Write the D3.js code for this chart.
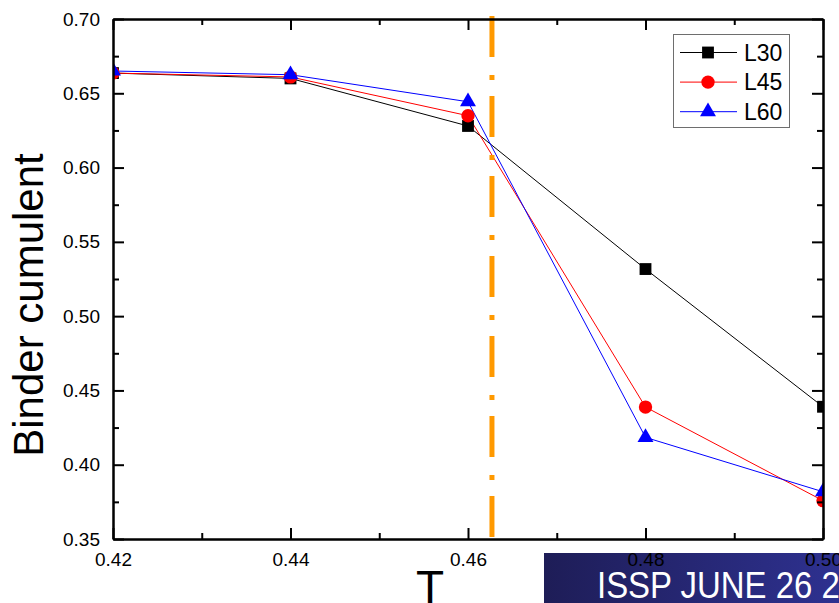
<!DOCTYPE html>
<html><head><meta charset="utf-8">
<script src="https://cdn.jsdelivr.net/npm/d3@7"></script>
<style>
html,body{margin:0;padding:0;background:#fff;}
svg{display:block;font-family:Arial,"Liberation Sans",sans-serif;}
</style></head>
<body>
<svg id="c" width="839" height="603"></svg>
<script>
const temps = [0.42, 0.44, 0.46, 0.48, 0.50];
const L30 = [0.6636, 0.6600, 0.6280, 0.5317, 0.4390];
const L45 = [0.6636, 0.6610, 0.6349, 0.4388, 0.3758];
const L60 = [0.6650, 0.6625, 0.6443, 0.4184, 0.3818];
const seriesNames = ["L30", "L45", "L60"];
const seriesColors = ["#000000", "#ff0000", "#0000ff"];
const seriesSymbols = ["square", "circle", "triangle"];
const criticalT = 0.4627;
const xTicks = [0.42, 0.44, 0.46, 0.48, 0.50];
const yTicks = [0.35, 0.40, 0.45, 0.50, 0.55, 0.60, 0.65, 0.70];
const yLabel = "Binder cumulent";
const xLabel = "T";
const bannerText = "ISSP JUNE 26 2008";

const svg = d3.select("#c");
const L = 113, R = 823, T = 19, B = 539;
const x = d3.scaleLinear().domain([0.42, 0.50]).range([L, R]);
const y = d3.scaleLinear().domain([0.35, 0.70]).range([B, T]);

const series = [L30, L45, L60].map((v, i) => ({name: seriesNames[i], color: seriesColors[i], sym: seriesSymbols[i], values: v}));

svg.append("defs").append("clipPath").attr("id", "pc")
  .append("rect").attr("x", L).attr("y", T).attr("width", R - L).attr("height", B - T);

const symType = {square: d3.symbolSquare, circle: d3.symbolCircle, triangle: d3.symbolTriangle};
const symSize = {square: 140, circle: 140, triangle: 110};

// data
const gData = svg.append("g").attr("clip-path", "url(#pc)");
const line = d3.line().x((d, i) => x(temps[i])).y(d => y(d));
series.forEach(s => {
  gData.append("path").attr("d", line(s.values)).attr("fill", "none")
    .attr("stroke", s.color).attr("stroke-width", 1);
});
series.forEach(s => {
  gData.selectAll(null).data(s.values).enter().append("path")
    .attr("transform", (d, i) => `translate(${x(temps[i])},${y(d)})`)
    .attr("d", d3.symbol().type(symType[s.sym]).size(symSize[s.sym]))
    .attr("fill", s.color);
});

// critical line
svg.append("line").attr("x1", x(criticalT)).attr("x2", x(criticalT))
  .attr("y1", 16).attr("y2", B)
  .attr("stroke", "#ff9900").attr("stroke-width", 5)
  .attr("stroke-dasharray", "41,18,5,16");

// banner
const grad = svg.append("defs").append("linearGradient").attr("id", "bg");
grad.append("stop").attr("offset", "0%").attr("stop-color", "#1e1d57");
grad.append("stop").attr("offset", "100%").attr("stop-color", "#2e3190");
svg.append("rect").attr("x", 544).attr("y", 553).attr("width", 295).attr("height", 50).attr("fill", "url(#bg)");
svg.append("text").attr("x", 597).attr("y", 598)
  .attr("transform", "translate(597,0) scale(0.89,1) translate(-597,0)")
  .attr("font-size", 37).attr("fill", "#ffffff").text(bannerText);

// axes
const minorX = d3.range(0.43, 0.50, 0.02);
const minorY = d3.range(0.375, 0.70, 0.05);
function styleAxis(g) {
  g.select(".domain").attr("stroke-width", 2);
  g.selectAll(".tick line").attr("stroke-width", 2);
  g.selectAll("text").attr("font-size", 19).attr("fill", "#000");
}
svg.append("g").attr("transform", `translate(0,${B})`)
  .call(d3.axisBottom(x).tickValues(xTicks).tickFormat(d3.format(".2f")).tickSizeInner(-11).tickSizeOuter(0).tickPadding(14))
  .call(styleAxis);
svg.append("g").attr("transform", `translate(0,${B})`)
  .call(d3.axisBottom(x).tickValues(minorX).tickFormat("").tickSizeInner(-6).tickSizeOuter(0))
  .call(styleAxis);
svg.append("g").attr("transform", `translate(0,${T})`)
  .call(d3.axisTop(x).tickValues(xTicks).tickFormat("").tickSizeInner(-11).tickSizeOuter(0))
  .call(styleAxis);
svg.append("g").attr("transform", `translate(0,${T})`)
  .call(d3.axisTop(x).tickValues(minorX).tickFormat("").tickSizeInner(-6).tickSizeOuter(0))
  .call(styleAxis);
svg.append("g").attr("transform", `translate(${L},0)`)
  .call(d3.axisLeft(y).tickValues(yTicks).tickFormat(d3.format(".2f")).tickSizeInner(-11).tickSizeOuter(0).tickPadding(13))
  .call(styleAxis);
svg.append("g").attr("transform", `translate(${L},0)`)
  .call(d3.axisLeft(y).tickValues(minorY).tickFormat("").tickSizeInner(-6).tickSizeOuter(0))
  .call(styleAxis);
svg.append("g").attr("transform", `translate(${R},0)`)
  .call(d3.axisRight(y).tickValues(yTicks).tickFormat("").tickSizeInner(-11).tickSizeOuter(0))
  .call(styleAxis);
svg.append("g").attr("transform", `translate(${R},0)`)
  .call(d3.axisRight(y).tickValues(minorY).tickFormat("").tickSizeInner(-6).tickSizeOuter(0))
  .call(styleAxis);

// axis titles
svg.append("text").attr("transform", "translate(43,305) rotate(-90)")
  .attr("text-anchor", "middle").attr("font-size", 42).attr("fill", "#000").text(yLabel);
svg.append("text").attr("x", 430).attr("y", 603).attr("text-anchor", "middle")
  .attr("font-size", 46).attr("fill", "#000").text(xLabel);

// legend
const lg = svg.append("g");
lg.append("rect").attr("x", 673.5).attr("y", 34.5).attr("width", 116).attr("height", 93)
  .attr("fill", "#fff").attr("stroke", "#6e6e6e").attr("stroke-width", 1);
series.forEach((s, i) => {
  const yy = 52.5 + i * 29.6;
  lg.append("line").attr("x1", 680).attr("x2", 737).attr("y1", yy).attr("y2", yy)
    .attr("stroke", s.color).attr("stroke-width", 1);
  lg.append("path").attr("transform", `translate(708,${yy})`)
    .attr("d", d3.symbol().type(symType[s.sym]).size(symSize[s.sym])).attr("fill", s.color);
  lg.append("text").attr("x", 744).attr("y", yy + 8.3).attr("font-size", 23).attr("fill", "#000").text(s.name);
});
</script>
</body></html>
